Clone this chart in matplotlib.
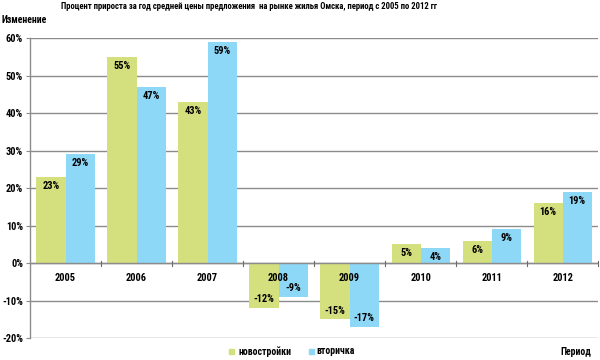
import numpy as np
import matplotlib.pyplot as plt

# data
years = ['2005', '2006', '2007', '2008', '2009', '2010', '2011', '2012']
novostroiki = [23, 55, 43, -12, -15, 5, 6, 16]
vtorichka = [29, 47, 59, -9, -17, 4, 9, 19]
yticks = [-20, -10, 0, 10, 20, 30, 40, 50, 60]

green = '#d3e07d'
blue = '#8dd7f7'

plt.rcParams['font.family'] = ['Roboto Condensed', 'DejaVu Sans']
plt.rcParams['font.weight'] = 'bold'
fs = 7.5

fig = plt.figure(figsize=(6, 3.6), dpi=100)
ax = fig.add_axes([0.05, 0.061, 0.947, 0.833])

x = np.arange(len(years))
w = 0.41
b1 = ax.bar(x - w / 2, novostroiki, w, color=green, zorder=3)
b2 = ax.bar(x + w / 2, vtorichka, w, color=blue, zorder=3)

# value labels inside the bars, near the end
for bars, vals in ((b1, novostroiki), (b2, vtorichka)):
    for r, v in zip(bars, vals):
        cx = r.get_x() + r.get_width() / 2
        off = -2.4 if v >= 0 else 2.3
        ax.text(cx, v + off, f'{v}%', ha='center', va='center', fontsize=fs, zorder=4)

# category labels just below the zero line (drawn over the negative bars)
for i, y in enumerate(years):
    ax.text(i, -3.9, y, ha='center', va='center', fontsize=fs, zorder=4)

ax.set_xlim(-0.5, len(years) - 0.5)
ax.set_ylim(-20, 60)
ax.set_yticks(yticks)
ax.set_yticklabels([f'{t}%' for t in yticks], fontsize=fs)
ax.yaxis.grid(True, color='#8c8c8c', linewidth=1.0, zorder=0)
ax.set_xticks([])
ax.tick_params(axis='y', length=3, color='#8c8c8c', pad=2)

# zero line with small separator ticks between groups
ax.axhline(0, color='#8c8c8c', linewidth=1.0, zorder=5)
for s in np.arange(0.5, len(years), 1.0):
    ax.plot([s, s], [-0.8, 0.5], color='#6a6a6a', linewidth=0.8, zorder=5, clip_on=False)

for side in ('top', 'right', 'bottom'):
    ax.spines[side].set_visible(False)
ax.spines['left'].set_color('#8c8c8c')
ax.spines['left'].set_linewidth(1.0)

fig.text(0.415, 0.983, 'Процент прироста за год средней цены предложения  на рынке жилья Омска, период с 2005 по 2012 гг',
         ha='center', va='center', fontsize=6.2)
fig.text(0.002, 0.944, 'Изменение', ha='left', va='center', fontsize=7)
fig.text(0.985, 0.022, 'Период', ha='right', va='center', fontsize=7)

# legend
fig.patches.append(plt.Rectangle((0.381, 0.016), 0.009, 0.015, color=green, transform=fig.transFigure))
fig.text(0.398, 0.024, 'новостройки', ha='left', va='center', fontsize=7)
fig.patches.append(plt.Rectangle((0.515, 0.016), 0.009, 0.015, color=blue, transform=fig.transFigure))
fig.text(0.527, 0.024, 'вторичка', ha='left', va='center', fontsize=7)

fig.savefig('out.png', dpi=100)
